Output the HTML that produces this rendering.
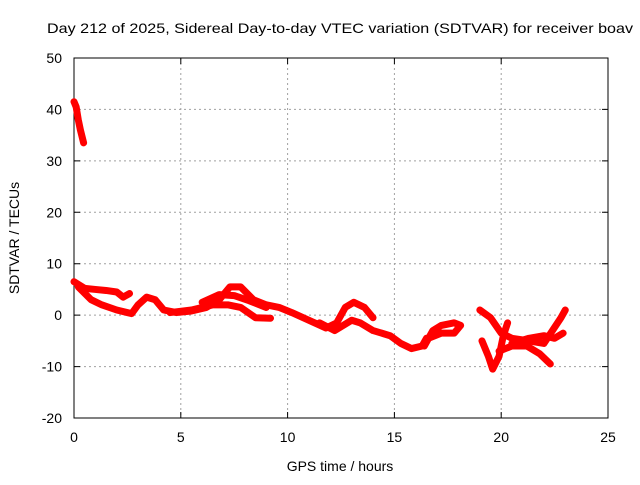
<!DOCTYPE html>
<html><head><meta charset="utf-8"><style>
body{margin:0;background:#fff}
svg text{font-family:"Liberation Sans",sans-serif;font-size:14px;fill:#000}
</style></head><body>
<svg id="c" width="640" height="480"></svg>
<script>
const xTicks=[0,5,10,15,20,25];
const yTicks=[-20,-10,0,10,20,30,40,50];
const trackA=[[0,41.5],[0.1,40.5],[0.2,38],[0.3,36],[0.45,33.5]];
const trackB=[[0,6.5],[0.5,5.2],[1,5],[1.5,4.8],[2,4.5],[2.3,3.5],[2.6,4.2]];
const trackC=[[0.2,5.5],[0.8,3],[1.3,2],[2,1],[2.7,0.3],[3,2],[3.4,3.5],[3.8,3],[4.2,1],[4.8,0.5],[5.5,0.8],[6.2,1.5],[6.8,3],[7.3,5.5],[7.8,5.5],[8.4,3],[9,2],[9.6,1.5],[10.2,0.5],[11,-1],[11.8,-2.5],[12.3,-1.5],[12.7,1.5],[13.1,2.5],[13.6,1.5],[14,-0.5]];
const trackD=[[4.5,0.5],[5.5,1],[6.5,2],[7.2,2],[7.8,1.5],[8.5,-0.5],[9.2,-0.6]];
const trackE=[[6,2.5],[6.8,4],[7.5,3.8],[8.2,2.8],[9,1.5]];
const trackF=[[11.5,-1.5],[12.2,-3],[13,-1],[13.4,-1.5],[14,-3],[14.8,-4],[15.3,-5.5],[15.8,-6.5],[16.3,-6],[16.5,-4.5]];
const trackG=[[16.4,-6],[16.8,-3],[17.2,-2],[17.8,-1.5],[18.1,-2],[17.8,-3.5],[17.2,-3.5],[16.6,-4.5]];
const trackH=[[19,1],[19.5,-0.5],[20,-3.5],[20.5,-4.5],[21.3,-5],[22,-5.5],[22.4,-3],[22.8,-0.5],[23,1]];
const trackI=[[19.1,-5],[19.4,-8],[19.6,-10.5],[19.9,-8],[20.1,-4],[20.3,-1.5]];
const trackJ=[[19.9,-7],[20.5,-6],[21.2,-6],[21.8,-7.5],[22.3,-9.5]];
const trackK=[[20.5,-5.5],[21.3,-4.5],[22,-4],[22.5,-4.5],[22.9,-3.5]];
const tracks=[trackA,trackB,trackC,trackD,trackE,trackF,trackG,trackH,trackI,trackJ,trackK];
const L=74,R=608,T=58,B=418;
const sx=v=>L+(v-0)/25*(R-L), sy=v=>B-(v+20)/70*(B-T);
const svg=document.getElementById('c');const NS='http://www.w3.org/2000/svg';
function mk(t,a,p){const e=document.createElementNS(NS,t);for(const k in a)e.setAttribute(k,a[k]);(p||svg).appendChild(e);return e;}
xTicks.forEach(v=>{const g=mk('line',{x1:sx(v),x2:sx(v),y1:T,y2:B,stroke:'#a0a0a0','stroke-dasharray':'2,3'});


const k=mk('path',{d:`M${sx(v)},${B}v-6M${sx(v)},${T}v6`,stroke:'#000'});


const t=mk('text',{x:sx(v),y:B+24,'text-anchor':'middle'});t.textContent=v;

});
yTicks.forEach(v=>{const g=mk('line',{x1:L,x2:R,y1:sy(v),y2:sy(v),stroke:'#a0a0a0','stroke-dasharray':'2,3'});


const k=mk('path',{d:`M${L},${sy(v)}h6M${R},${sy(v)}h-6`,stroke:'#000'});


const t=mk('text',{x:L-12,y:sy(v)+5,'text-anchor':'end'});t.textContent=v;

});
const fr=mk('rect',{x:L,y:T,width:R-L,height:B-T,fill:'none',stroke:'#000'});


tracks.forEach(tr=>{const p=mk('polyline',{points:tr.map(d=>sx(d[0])+','+sy(d[1])).join(' '),fill:'none',stroke:'#f00','stroke-width':7,'stroke-linejoin':'round','stroke-linecap':'round'});

});
let t=mk('text',{x:47,y:33,'text-anchor':'start',textLength:586,lengthAdjust:'spacingAndGlyphs'});t.textContent='Day 212 of 2025, Sidereal Day-to-day VTEC variation (SDTVAR) for receiver boav';


t=mk('text',{x:340,y:471,'text-anchor':'middle'});t.textContent='GPS time / hours';


t=mk('text',{x:19,y:238,'text-anchor':'middle',transform:'rotate(-90 19 238)'});t.textContent='SDTVAR / TECUs';


</script></body></html>
